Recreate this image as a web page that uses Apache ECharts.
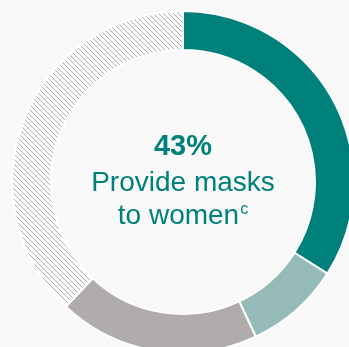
<!DOCTYPE html>
<html>
<head>
<meta charset="utf-8">
<script src="https://cdn.jsdelivr.net/npm/echarts@6/dist/echarts.min.js"></script>
<style>
  html, body { margin: 0; padding: 0; background: #f9f9f9; }
  #chart { width: 349px; height: 347px; }
</style>
</head>
<body>
<div id="chart"></div>
<script>
// Share of responses, in percent, clockwise from 12 o'clock
const categories = ['Provide masks to women', 'Partly', 'No', 'Not reported'];
const values = [34, 9, 19, 38];
const colors = ['#00807b', '#95bab7', '#b0acab', null];

const headline = '43%';
const captionLine1 = 'Provide masks';
const captionLine2 = 'to women';
const footnote = 'c';

// Diagonal hatch tile for the last segment
function hatchTile() {
  const n = 5;
  const c = document.createElement('canvas');
  c.width = n; c.height = n;
  const g = c.getContext('2d');
  g.fillStyle = '#ffffff';
  g.fillRect(0, 0, n, n);
  g.fillStyle = '#aaaaaa';
  for (let i = 0; i < n; i++) g.fillRect(i, i, 1, 1);
  return c;
}

const chart = echarts.init(document.getElementById('chart'));
const teal = '#00807b';
const font = '"Liberation Sans", Arial, sans-serif';

chart.setOption({
  backgroundColor: '#f9f9f9',
  animation: false,
  series: [{
    type: 'pie',
    center: [183, 182],
    radius: [132, 171],
    startAngle: 90,
    clockwise: true,
    label: { show: false },
    labelLine: { show: false },
    emphasis: { disabled: true },
    itemStyle: { borderColor: '#ffffff', borderWidth: 2 },
    data: categories.map((name, i) => ({
      name,
      value: values[i],
      itemStyle: {
        color: colors[i] ? colors[i] : { image: hatchTile(), repeat: 'repeat' }
      }
    }))
  }],
  graphic: [
    {
      type: 'text', x: 183, y: 161,
      style: {
        text: headline, fill: teal, font: 'bold 29px ' + font,
        textAlign: 'center', textVerticalAlign: 'bottom'
      }
    },
    {
      type: 'text', x: 183, y: 197,
      style: {
        text: captionLine1, fill: teal, font: '28px ' + font,
        textAlign: 'center', textVerticalAlign: 'bottom'
      }
    },
    {
      type: 'text', x: 183, y: 230,
      style: {
        text: '{m|' + captionLine2 + '}{s|' + footnote + '}',
        textAlign: 'center', textVerticalAlign: 'bottom',
        rich: {
          m: { fill: teal, font: '28px ' + font },
          s: { fill: teal, font: '16px ' + font, verticalAlign: 'top', padding: [0, 0, 12, 1] }
        }
      }
    }
  ]
});
</script>
</body>
</html>
